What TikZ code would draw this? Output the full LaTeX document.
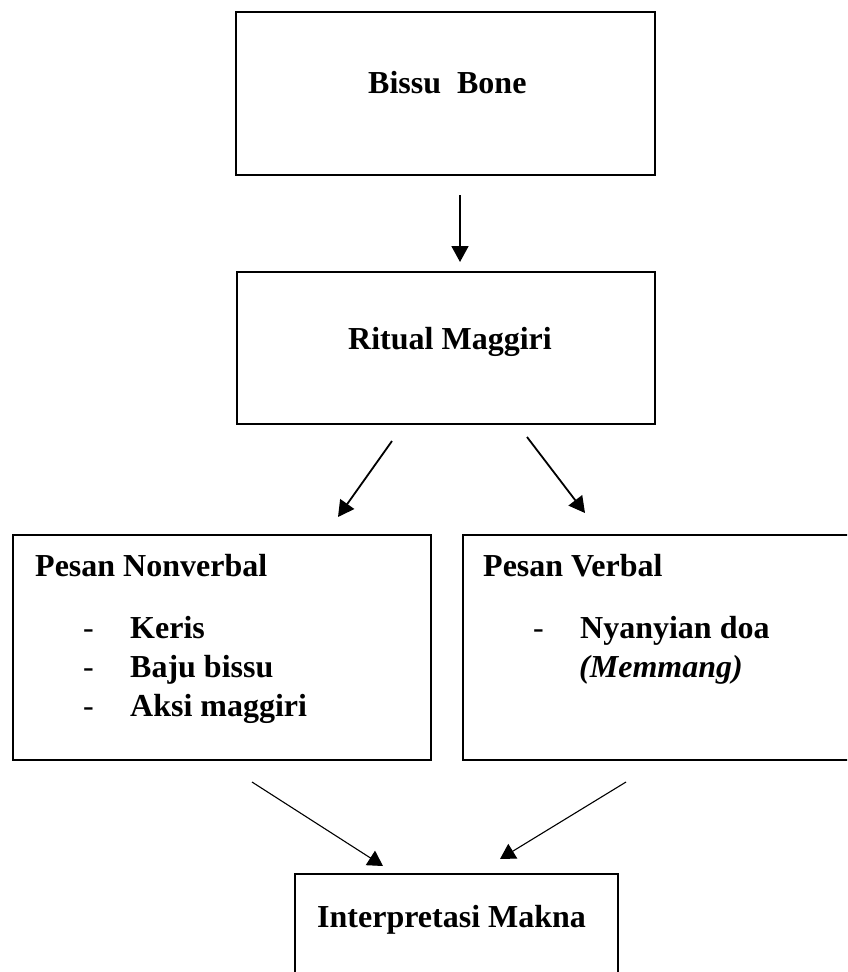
\documentclass[tikz,border=0pt]{standalone}
\usepackage{fontspec}
\setmainfont{Liberation Serif}
\usetikzlibrary{arrows.meta,calc}
\begin{document}
\begin{tikzpicture}[x=1pt,y=-1pt,
  box/.style={draw, line width=1.7pt, inner sep=0pt, outer sep=0pt},
  topbox/.style={box, line width=2.8pt},
  lbl/.style={anchor=base west, inner sep=0pt, font=\fontsize{32}{38}\selectfont\bfseries},
  dashlbl/.style={anchor=base west, inner sep=0pt, font=\fontsize{32}{38}\selectfont},
  arr/.style={line width=1.8pt, -{Triangle[length=16pt,width=17pt]}},
  thinarr/.style={line width=1.1pt, -{Triangle[length=15pt,width=17pt]}}]
\useasboundingbox (0,0) rectangle (847,972);
\clip (0,0) rectangle (847,972);
\fill[white] (0,0) rectangle (847,972);

% boxes
\node[topbox, minimum width=419pt, minimum height=163pt] (a) at (445.5,93.5) {};
\node[box, minimum width=418pt, minimum height=152pt] (b) at (446,348) {};
\node[box, minimum width=418pt, minimum height=225pt] (c) at (222,647.5) {};
\node[box, minimum width=417pt, minimum height=225pt] (d) at (671.5,647.5) {};
\node[box, minimum width=323pt, minimum height=126pt] (e) at (456.5,937) {};

% texts
\node[lbl] (ta) at (368,93) {Bissu\ \ Bone};
\node[lbl] (tb) at (348,349) {Ritual Maggiri};
\node[lbl] (tc) at (35,576) {Pesan Nonverbal};
\node[dashlbl] (c1d) at (83,638) {-};
\node[dashlbl] (c2d) at (83,677) {-};
\node[dashlbl] (c3d) at (83,716) {-};
\node[lbl] (c1) at (130,638) {Keris};
\node[lbl] (c2) at (130,677) {Baju bissu};
\node[lbl] (c3) at (130,716) {Aksi maggiri};
\node[lbl] (td) at (483,576) {Pesan Verbal};
\node[dashlbl] (d1d) at (533,638) {-};
\node[lbl] (d1) at (580,638) {Nyanyian doa};
\node[lbl] (d2) at (579,677) {\itshape (Memmang)};
\node[lbl] (te) at (317,927) {Interpretasi Makna};

% connectors
\draw[arr] ($(a.south)+(14.5,20)$) -- ($(b.north)+(14,-10)$);
\draw[arr] ($(b.south)+(-54,17)$) -- ($(c.north)+(116,-18)$);
\draw[arr] ($(b.south)+(81,13)$) -- ($(d.north west)+(122,-22)$);
\draw[thinarr] ($(c.south)+(30,22)$) -- ($(e.north west)+(88,-8)$);
\draw[thinarr] ($(d.south west)+(163,22)$) -- ($(e.north west)+(205,-15)$);
\end{tikzpicture}
\end{document}
